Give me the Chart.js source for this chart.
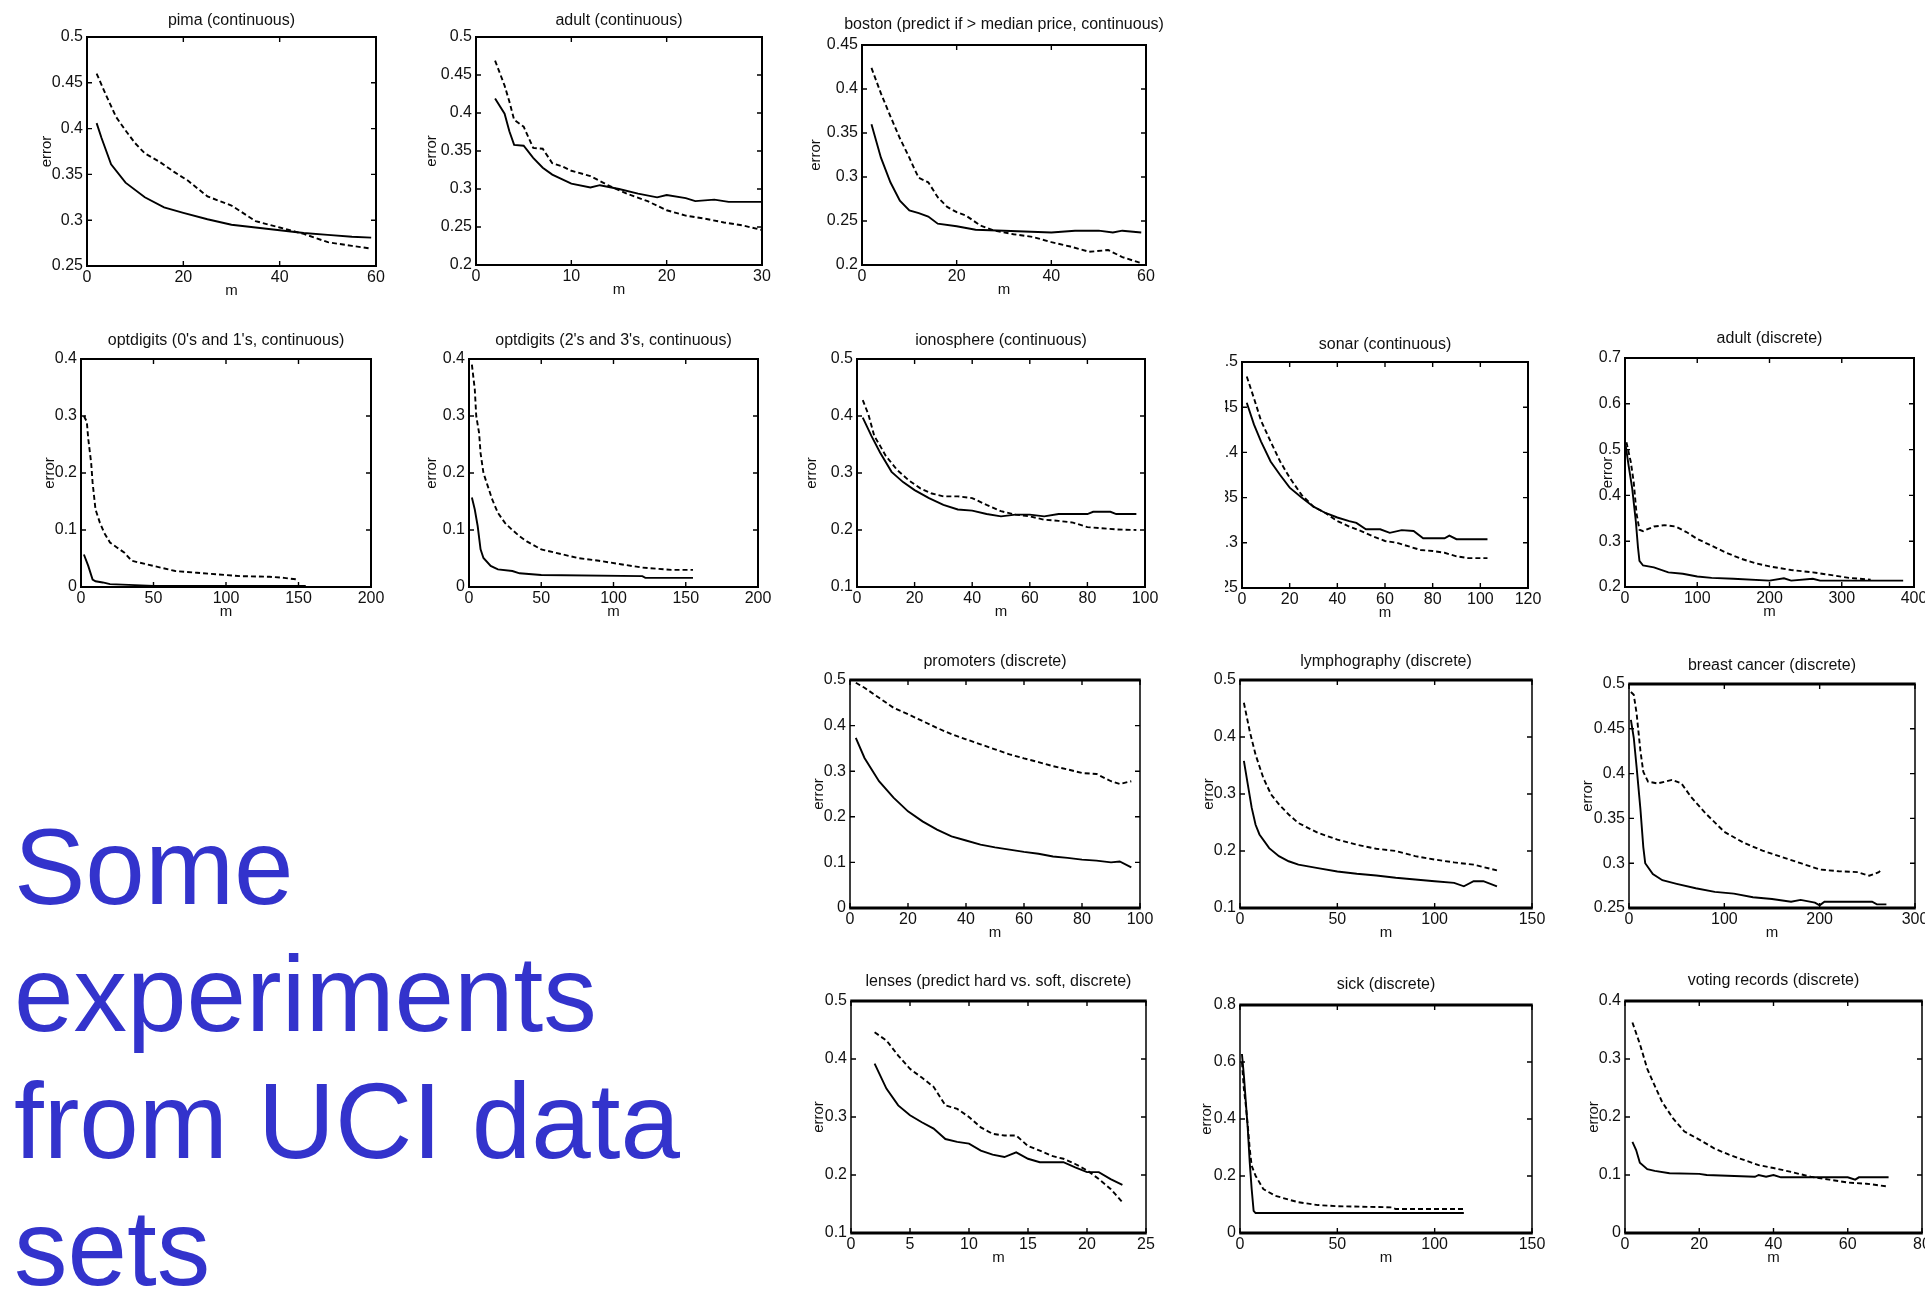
<!DOCTYPE html>
<html>
<head>
<meta charset="utf-8">
<script src="https://cdn.jsdelivr.net/npm/chart.js@4.4.1/dist/chart.umd.min.js"></script>
<style>
  html, body { margin: 0; padding: 0; background: #fff; overflow: hidden; }
  body { width: 1925px; height: 1295px; position: relative; }
  canvas { position: absolute; }
  #caption {
    position: absolute; left: 14px; top: 804px;
    font-family: "Liberation Sans", Arial, sans-serif;
    font-size: 107px; line-height: 127px; color: #3333cc;
  }
</style>
</head>
<body>
<div id="caption">Some<br>experiments<br>from UCI data<br>sets</div>
<script>
// [m, error] readings, solid and dashed curve of each data set
const pimaSolid = [[2,0.406],[3,0.39],[5,0.361],[8,0.341],[12,0.325],[16,0.314],[20,0.308],[25,0.301],[30,0.295],[35,0.292],[40,0.289],[45,0.286],[50,0.284],[55,0.282],[59,0.281]];
const pimaDashed = [[2,0.46],[4,0.436],[6,0.413],[8,0.398],[10,0.384],[12,0.373],[15,0.364],[18,0.353],[21,0.343],[25,0.326],[30,0.316],[35,0.299],[40,0.292],[45,0.285],[50,0.276],[55,0.272],[59,0.269]];
const adultContSolid = [[2,0.419],[3,0.399],[3.5,0.376],[4,0.358],[5,0.357],[6,0.341],[7,0.328],[8,0.319],[9,0.313],[10,0.307],[12,0.302],[13,0.305],[15,0.3],[17,0.294],[19,0.289],[20,0.292],[22,0.288],[23,0.284],[25,0.286],[26.5,0.283],[30,0.283]];
const adultContDashed = [[2,0.469],[3,0.436],[3.5,0.415],[4,0.391],[5,0.382],[6,0.354],[7,0.353],[8,0.334],[9,0.33],[10,0.324],[12,0.317],[14,0.304],[16,0.293],[18,0.284],[20,0.272],[22,0.265],[24,0.261],[26,0.256],[28,0.252],[30,0.246]];
const bostonSolid = [[2,0.36],[4,0.322],[6,0.294],[8,0.273],[10,0.262],[12,0.259],[14,0.255],[16,0.247],[20,0.244],[24,0.24],[30,0.239],[40,0.237],[45,0.239],[50,0.239],[53,0.237],[55,0.239],[59,0.237]];
const bostonDashed = [[2,0.424],[4,0.395],[6,0.369],[8,0.344],[10,0.322],[11,0.31],[12,0.299],[14,0.294],[16,0.277],[18,0.266],[20,0.26],[22,0.256],[25,0.245],[28,0.239],[32,0.235],[36,0.232],[40,0.226],[44,0.221],[48,0.215],[52,0.217],[55,0.209],[59,0.202]];
const opt01Solid = [[2,0.057],[5,0.037],[8,0.013],[10,0.01],[15,0.008],[20,0.005],[50,0.002],[155,0.002]];
const opt01Dashed = [[2,0.3],[4,0.29],[5,0.26],[7,0.218],[8,0.183],[10,0.136],[13,0.113],[16,0.095],[20,0.078],[25,0.069],[30,0.06],[35,0.046],[45,0.04],[55,0.034],[65,0.028],[80,0.025],[95,0.022],[110,0.019],[130,0.018],[140,0.016],[150,0.013]];
const opt23Solid = [[2,0.157],[4,0.136],[6,0.107],[8,0.066],[10,0.051],[15,0.037],[20,0.031],[30,0.028],[35,0.024],[50,0.021],[120,0.019],[122,0.016],[155,0.016]];
const opt23Dashed = [[2,0.39],[4,0.347],[5,0.3],[7,0.27],[8,0.235],[10,0.2],[13,0.177],[16,0.154],[20,0.13],[25,0.112],[30,0.1],[35,0.089],[40,0.08],[50,0.066],[60,0.06],[75,0.051],[90,0.046],[105,0.04],[120,0.034],[140,0.03],[155,0.03]];
const ionoSolid = [[2,0.397],[5,0.365],[8,0.336],[12,0.302],[16,0.284],[20,0.27],[25,0.256],[30,0.244],[35,0.236],[40,0.234],[45,0.228],[50,0.224],[55,0.227],[60,0.227],[65,0.224],[70,0.228],[80,0.228],[82,0.232],[88,0.232],[90,0.228],[97,0.228]];
const ionoDashed = [[2,0.428],[4,0.402],[6,0.365],[8,0.348],[10,0.33],[14,0.305],[18,0.287],[22,0.273],[26,0.264],[30,0.259],[35,0.259],[40,0.256],[45,0.244],[50,0.233],[55,0.227],[60,0.224],[65,0.218],[70,0.216],[75,0.213],[80,0.205],[85,0.203],[90,0.201],[97,0.2]];
const sonarSolid = [[2,0.455],[5,0.431],[8,0.412],[12,0.39],[16,0.375],[20,0.361],[25,0.35],[30,0.34],[35,0.333],[40,0.328],[45,0.324],[48,0.322],[52,0.315],[58,0.315],[62,0.311],[67,0.314],[72,0.313],[76,0.305],[85,0.305],[87,0.308],[90,0.304],[103,0.304]];
const sonarDashed = [[2,0.484],[5,0.46],[8,0.435],[12,0.412],[16,0.39],[20,0.372],[25,0.353],[30,0.34],[35,0.333],[40,0.324],[45,0.318],[50,0.313],[55,0.307],[60,0.302],[65,0.3],[70,0.296],[75,0.292],[80,0.291],[85,0.289],[90,0.285],[95,0.283],[103,0.283]];
const adultDiscSolid = [[1,0.508],[5,0.465],[10,0.415],[15,0.343],[18,0.286],[20,0.257],[25,0.247],[40,0.243],[60,0.232],[80,0.229],[100,0.223],[120,0.22],[150,0.218],[200,0.214],[220,0.219],[230,0.214],[260,0.218],[270,0.214],[385,0.214]];
const adultDiscDashed = [[2,0.516],[8,0.473],[12,0.43],[16,0.36],[20,0.325],[25,0.322],[40,0.332],[55,0.335],[70,0.332],[85,0.32],[100,0.305],[120,0.29],[140,0.275],[160,0.262],[180,0.252],[200,0.245],[230,0.237],[260,0.232],[290,0.225],[310,0.22],[340,0.216]];
const promotersSolid = [[2,0.373],[5,0.329],[10,0.278],[15,0.242],[20,0.212],[25,0.19],[30,0.172],[35,0.157],[40,0.148],[45,0.139],[50,0.133],[55,0.128],[60,0.123],[65,0.119],[70,0.113],[75,0.11],[80,0.106],[85,0.104],[90,0.1],[93,0.102],[97,0.089]];
const promotersDashed = [[2,0.494],[5,0.483],[10,0.461],[15,0.439],[20,0.425],[25,0.41],[30,0.395],[35,0.381],[40,0.37],[45,0.359],[50,0.348],[55,0.337],[60,0.328],[65,0.32],[70,0.311],[75,0.304],[80,0.296],[85,0.294],[90,0.278],[93,0.272],[97,0.278]];
const lymphSolid = [[2,0.358],[4,0.317],[6,0.276],[8,0.246],[10,0.229],[15,0.205],[20,0.191],[25,0.182],[30,0.176],[40,0.17],[50,0.164],[60,0.16],[70,0.157],[80,0.153],[90,0.15],[100,0.147],[110,0.144],[115,0.138],[120,0.147],[125,0.147],[132,0.138]];
const lymphDashed = [[2,0.46],[5,0.41],[8,0.369],[12,0.328],[16,0.299],[20,0.282],[25,0.264],[30,0.249],[40,0.232],[50,0.22],[60,0.211],[70,0.204],[80,0.2],[90,0.191],[100,0.185],[110,0.18],[120,0.176],[132,0.166]];
const breastSolid = [[2,0.46],[5,0.44],[8,0.407],[12,0.36],[15,0.318],[17,0.3],[25,0.288],[35,0.281],[50,0.277],[70,0.272],[90,0.268],[110,0.266],[130,0.262],[150,0.26],[170,0.257],[180,0.259],[195,0.256],[200,0.253],[205,0.257],[255,0.257],[260,0.254],[270,0.254]];
const breastDashed = [[2,0.491],[5,0.488],[8,0.467],[12,0.425],[15,0.402],[20,0.391],[30,0.389],[45,0.393],[55,0.389],[65,0.374],[80,0.356],[100,0.335],[120,0.323],[140,0.314],[160,0.307],[180,0.3],[200,0.293],[220,0.291],[240,0.29],[252,0.286],[262,0.29],[265,0.293]];
const lensesSolid = [[2,0.392],[3,0.349],[4,0.32],[5,0.303],[6,0.291],[7,0.28],[8,0.262],[9,0.257],[10,0.254],[11,0.242],[12,0.235],[13,0.231],[14,0.239],[15,0.228],[16,0.222],[17,0.222],[18,0.222],[19,0.213],[20,0.205],[21,0.205],[22,0.193],[23,0.183]];
const lensesDashed = [[2,0.446],[3,0.432],[4,0.406],[5,0.383],[6,0.368],[7,0.352],[8,0.32],[9,0.314],[10,0.3],[11,0.282],[12,0.271],[13,0.268],[14,0.268],[15,0.25],[16,0.242],[17,0.233],[18,0.228],[19,0.219],[20,0.208],[21,0.193],[22,0.176],[23,0.153]];
const sickSolid = [[1,0.628],[2,0.552],[3,0.459],[4,0.365],[5,0.248],[6,0.154],[7,0.078],[8,0.07],[115,0.07]];
const sickDashed = [[1,0.599],[2,0.505],[3,0.447],[4,0.377],[5,0.295],[6,0.236],[8,0.201],[12,0.154],[18,0.131],[25,0.117],[30,0.108],[40,0.098],[50,0.094],[78,0.09],[80,0.084],[115,0.084]];
const votingSolid = [[2,0.157],[3,0.143],[4,0.121],[6,0.11],[8,0.107],[12,0.103],[20,0.102],[22,0.1],[35,0.097],[36,0.1],[38,0.097],[40,0.1],[42,0.096],[60,0.096],[62,0.092],[63,0.096],[71,0.096]];
const votingDashed = [[2,0.363],[4,0.326],[6,0.283],[8,0.254],[10,0.226],[13,0.197],[16,0.175],[20,0.161],[24,0.146],[28,0.135],[32,0.126],[36,0.117],[40,0.112],[45,0.105],[50,0.097],[55,0.092],[60,0.087],[65,0.085],[71,0.08]];

// tick values (also the printed tick labels)
const ticks20of60 = [0, 20, 40, 60];
const ticks10of30 = [0, 10, 20, 30];
const ticks50of200 = [0, 50, 100, 150, 200];
const ticks20of100 = [0, 20, 40, 60, 80, 100];
const ticks20of120 = [0, 20, 40, 60, 80, 100, 120];
const ticks100of400 = [0, 100, 200, 300, 400];
const ticks50of150 = [0, 50, 100, 150];
const ticks100of300 = [0, 100, 200, 300];
const ticks5of25 = [0, 5, 10, 15, 20, 25];
const ticks20of80 = [0, 20, 40, 60, 80];
const err25to50 = [0.25, 0.3, 0.35, 0.4, 0.45, 0.5];
const err20to50 = [0.2, 0.25, 0.3, 0.35, 0.4, 0.45, 0.5];
const err20to45 = [0.2, 0.25, 0.3, 0.35, 0.4, 0.45];
const err0to40 = [0, 0.1, 0.2, 0.3, 0.4];
const err10to50 = [0.1, 0.2, 0.3, 0.4, 0.5];
const err20to70 = [0.2, 0.3, 0.4, 0.5, 0.6, 0.7];
const err0to50 = [0, 0.1, 0.2, 0.3, 0.4, 0.5];
const err0to80 = [0, 0.2, 0.4, 0.6, 0.8];

const FONT = '"Liberation Sans", Arial, sans-serif';

// box = plot frame [left, top, right, bottom] on the page
const panels = [
  { title: 'pima (continuous)', solid: pimaSolid, dashed: pimaDashed, xt: ticks20of60, yt: err25to50, box: [87, 37, 376, 266], ylab: 40, tgap: 16, heavy: false },
  { title: 'adult (continuous)', solid: adultContSolid, dashed: adultContDashed, xt: ticks10of30, yt: err20to50, box: [476, 37, 762, 265], ylab: 44, tgap: 16, heavy: false },
  { title: 'boston (predict if > median price, continuous)', solid: bostonSolid, dashed: bostonDashed, xt: ticks20of60, yt: err20to45, box: [862, 45, 1146, 265], ylab: 46, tgap: 20, heavy: false },
  { title: "optdigits (0's and 1's, continuous)", solid: opt01Solid, dashed: opt01Dashed, xt: ticks50of200, yt: err0to40, box: [81, 359, 371, 587], ylab: 31, tgap: 18, heavy: false },
  { title: "optdigits (2's and 3's, continuous)", solid: opt23Solid, dashed: opt23Dashed, xt: ticks50of200, yt: err0to40, box: [469, 359, 758, 587], ylab: 37, tgap: 18, heavy: false },
  { title: 'ionosphere (continuous)', solid: ionoSolid, dashed: ionoDashed, xt: ticks20of100, yt: err10to50, box: [857, 359, 1145, 587], ylab: 45, tgap: 18, heavy: false },
  { title: 'sonar (continuous)', solid: sonarSolid, dashed: sonarDashed, xt: ticks20of120, yt: err25to50, box: [1242, 362, 1528, 588], ylab: 60, tgap: 17, heavy: false, clipLeft: 1225 },
  { title: 'adult (discrete)', solid: adultDiscSolid, dashed: adultDiscDashed, xt: ticks100of400, yt: err20to70, box: [1625, 358, 1914, 587], ylab: 17, tgap: 19, heavy: false },
  { title: 'promoters (discrete)', solid: promotersSolid, dashed: promotersDashed, xt: ticks20of100, yt: err0to50, box: [850, 680, 1140, 908], ylab: 31, tgap: 18, heavy: true },
  { title: 'lymphography (discrete)', solid: lymphSolid, dashed: lymphDashed, xt: ticks50of150, yt: err10to50, box: [1240, 680, 1532, 908], ylab: 31, tgap: 18, heavy: true },
  { title: 'breast cancer (discrete)', solid: breastSolid, dashed: breastDashed, xt: ticks100of300, yt: err25to50, box: [1629, 684, 1915, 908], ylab: 41, tgap: 18, heavy: true },
  { title: 'lenses (predict hard vs. soft, discrete)', solid: lensesSolid, dashed: lensesDashed, xt: ticks5of25, yt: err10to50, box: [851, 1001, 1146, 1233], ylab: 32, tgap: 19, heavy: true },
  { title: 'sick (discrete)', solid: sickSolid, dashed: sickDashed, xt: ticks50of150, yt: err0to80, box: [1240, 1005, 1532, 1233], ylab: 33, tgap: 20, heavy: true },
  { title: 'voting records (discrete)', solid: votingSolid, dashed: votingDashed, xt: ticks20of80, yt: err0to40, box: [1625, 1001, 1922, 1233], ylab: 31, tgap: 20, heavy: true },
];

// matlab style frame with inward ticks, plus title, "m" and "error"
const matFrame = {
  id: 'matFrame',
  afterDatasetsDraw(chart, args, o) {
    const { ctx, chartArea: a, scales: { x, y } } = chart;
    ctx.save();
    ctx.strokeStyle = '#000';
    ctx.lineWidth = 1.4;
    ctx.beginPath();
    x.ticks.forEach(t => {
      const px = x.getPixelForValue(t.value);
      ctx.moveTo(px, a.bottom); ctx.lineTo(px, a.bottom - 5);
      ctx.moveTo(px, a.top); ctx.lineTo(px, a.top + 5);
    });
    y.ticks.forEach(t => {
      const py = y.getPixelForValue(t.value);
      ctx.moveTo(a.left, py); ctx.lineTo(a.left + 5, py);
      ctx.moveTo(a.right, py); ctx.lineTo(a.right - 5, py);
    });
    ctx.stroke();

    const hw = o.heavy ? 3 : 2;
    const sw = o.heavy ? 1.5 : 2;
    ctx.lineWidth = hw;
    ctx.beginPath();
    ctx.moveTo(a.left - sw / 2, a.top); ctx.lineTo(a.right + sw / 2, a.top);
    ctx.moveTo(a.left - sw / 2, a.bottom); ctx.lineTo(a.right + sw / 2, a.bottom);
    ctx.stroke();
    ctx.lineWidth = sw;
    ctx.beginPath();
    ctx.moveTo(a.left, a.top); ctx.lineTo(a.left, a.bottom);
    ctx.moveTo(a.right, a.top); ctx.lineTo(a.right, a.bottom);
    ctx.stroke();

    ctx.fillStyle = '#111';
    ctx.textAlign = 'center';
    ctx.textBaseline = 'middle';
    ctx.font = '16px ' + FONT;
    ctx.fillText(o.title, (a.left + a.right) / 2, a.top - o.tgap);
    ctx.font = '15px ' + FONT;
    ctx.fillText('m', (a.left + a.right) / 2, a.bottom + 25);
    ctx.translate(a.left - o.ylab, (a.top + a.bottom) / 2);
    ctx.rotate(-Math.PI / 2);
    ctx.fillText('error', 0, 0);
    ctx.restore();
  }
};

const PAD_T = 36, PAD_R = 36, PAD_B = 44, PAD_L = 66;

panels.forEach(p => {
  const [l, t, r, b] = p.box;
  const left = Math.max(l - PAD_L, p.clipLeft || 0);
  const padL = l - left;
  const cv = document.createElement('canvas');
  cv.width = r - left + PAD_R;
  cv.height = b - t + PAD_T + PAD_B;
  cv.style.left = left + 'px';
  cv.style.top = (t - PAD_T) + 'px';
  document.body.appendChild(cv);

  const line = (pts, dash) => ({
    data: pts.map(([m, e]) => ({ x: m, y: e })),
    borderColor: '#000',
    borderWidth: 1.9,
    borderDash: dash,
    pointRadius: 0,
    tension: 0,
    fill: false,
  });

  new Chart(cv, {
    type: 'line',
    data: { datasets: [line(p.solid, []), line(p.dashed, [5, 3])] },
    options: {
      responsive: false,
      animation: false,
      devicePixelRatio: 1,
      layout: { autoPadding: false, padding: { top: PAD_T, right: PAD_R, left: 0, bottom: 0 } },
      plugins: {
        legend: { display: false },
        tooltip: { enabled: false },
        matFrame: { title: p.title, ylab: p.ylab, tgap: p.tgap, heavy: p.heavy },
      },
      scales: {
        x: {
          type: 'linear',
          min: p.xt[0],
          max: p.xt[p.xt.length - 1],
          afterBuildTicks: s => { s.ticks = p.xt.map(v => ({ value: v })); },
          afterFit: s => { s.height = PAD_B; },
          grid: { display: false, drawTicks: false },
          border: { display: false },
          ticks: { padding: 2, maxRotation: 0, autoSkip: false, color: '#111', font: { family: FONT, size: 16 }, callback: v => String(v) },
        },
        y: {
          type: 'linear',
          min: p.yt[0],
          max: p.yt[p.yt.length - 1],
          afterBuildTicks: s => { s.ticks = p.yt.map(v => ({ value: v })); },
          afterFit: s => { s.width = padL; },
          grid: { display: false, drawTicks: false },
          border: { display: false },
          ticks: { padding: 4, autoSkip: false, color: '#111', font: { family: FONT, size: 16 }, callback: v => String(v) },
        },
      },
    },
    plugins: [matFrame],
  });
});
</script>
</body>
</html>
